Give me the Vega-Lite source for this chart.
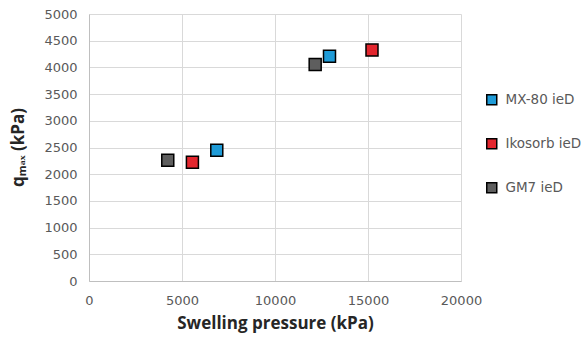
{
  "$schema": "https://vega.github.io/schema/vega-lite/v6.json",
  "autosize": "none",
  "width": 372,
  "height": 267,
  "padding": {"left": 89, "top": 14, "right": 122, "bottom": 59},
  "background": "white",
  "data": {
    "values": [
      {"material": "MX-80 ieD", "swelling": 6870, "qmax": 2450},
      {"material": "MX-80 ieD", "swelling": 12930, "qmax": 4210},
      {"material": "Ikosorb ieD", "swelling": 5560, "qmax": 2225},
      {"material": "Ikosorb ieD", "swelling": 15215, "qmax": 4325},
      {"material": "GM7 ieD", "swelling": 4235, "qmax": 2260},
      {"material": "GM7 ieD", "swelling": 12160, "qmax": 4055}
    ]
  },
  "config": {
    "view": {"stroke": null},
    "font": "Open Sans"
  },
  "mark": {"type": "square", "size": 144, "opacity": 1, "stroke": "black", "strokeWidth": 1.5, "filled": true},
  "encoding": {
    "x": {
      "field": "swelling", "type": "quantitative",
      "scale": {"domain": [0, 20000], "nice": false},
      "axis": {
        "values": [0, 5000, 10000, 15000, 20000],
        "format": "d",
        "title": "Swelling pressure (kPa)",
        "titleFont": "Open Sans", "titleFontSize": 17, "titleFontWeight": "bold", "titleColor": "#262626",
        "titleX": 186, "titleY": 42, "titleBaseline": "middle", "titleAlign": "center",
        "labelFont": "DejaVu Sans", "labelFontSize": 13, "labelColor": "#595959", "labelPadding": 13,
        "labelFlush": false,
        "ticks": false, "domainColor": "#bfbfbf", "gridColor": "#d9d9d9", "grid": true
      }
    },
    "y": {
      "field": "qmax", "type": "quantitative",
      "scale": {"domain": [0, 5000], "nice": false},
      "axis": {
        "values": [0, 500, 1000, 1500, 2000, 2500, 3000, 3500, 4000, 4500, 5000],
        "format": "d",
        "title": "qₘₐₓ (kPa)",
        "titleFont": "Open Sans", "titleFontSize": 17, "titleFontWeight": "bold", "titleColor": "#262626",
        "titleX": -71, "titleY": 133, "titleAngle": -90, "titleBaseline": "middle", "titleAlign": "center",
        "labelFont": "DejaVu Sans", "labelFontSize": 13, "labelColor": "#595959", "labelPadding": 12,
        "labelFlush": false,
        "ticks": false, "domainColor": "#bfbfbf", "gridColor": "#d9d9d9", "grid": true
      }
    },
    "fill": {
      "field": "material", "type": "nominal",
      "scale": {"domain": ["MX-80 ieD", "Ikosorb ieD", "GM7 ieD"], "range": ["#1f9bd7", "#e3262e", "#5e5e5e"]},
      "legend": {
        "title": null,
        "orient": "none", "legendX": 396, "legendY": 79,
        "symbolType": "square", "symbolSize": 100, "symbolStrokeColor": "black", "symbolStrokeWidth": 1.5,
        "symbolOpacity": 1,
        "labelFont": "DejaVu Sans", "labelFontSize": 13.5, "labelColor": "#595959", "labelOffset": 7,
        "rowPadding": 27, "labelLimit": 300
      }
    }
  }
}
